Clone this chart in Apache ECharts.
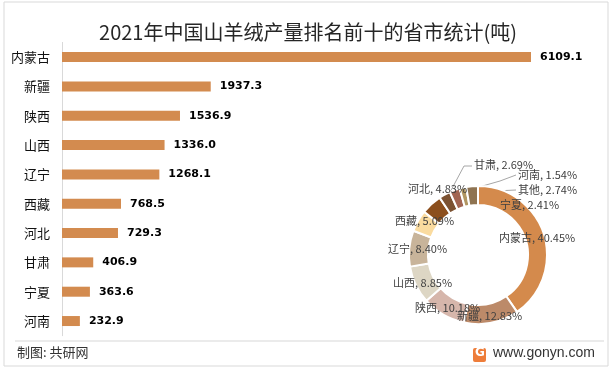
<!DOCTYPE html>
<html>
<head>
<meta charset="utf-8">
<script src="https://cdn.jsdelivr.net/npm/echarts@6/dist/echarts.min.js"></script>
<style>
html,body{margin:0;padding:0;background:#fff;}
#c{width:616px;height:370px;}
</style>
</head>
<body>
<div id="c"></div>
<script>
// ---- data ----
const categories = ['内蒙古','新疆','陕西','山西','辽宁','西藏','河北','甘肃','宁夏','河南'];
const barValues = [6109.1, 1937.3, 1536.9, 1336.0, 1268.1, 768.5, 729.3, 406.9, 363.6, 232.9];
const pieNames = ['内蒙古','新疆','陕西','山西','辽宁','西藏','河北','甘肃','宁夏','河南','其他'];
const pieValues = [40.45, 12.83, 10.18, 8.85, 8.40, 5.09, 4.83, 2.69, 2.41, 1.54, 2.74];
const titleText = '2021年中国山羊绒产量排名前十的省市统计(吨)';
const sourceText = '制图: 共研网';
const urlText = 'www.gonyn.com';

// ---- styles ----
const pieColors = ['#D48A4C','#BC8A69','#D6B6AB','#DDD6C4','#C8B49A','#FADB9F','#8C4F1D','#7C5232','#A26552','#B19661','#8E7351'];
const CJK = '"Noto Sans CJK SC", "Noto Sans", sans-serif';
// label anchor positions (left, middle) and leader lines for the donut
const pieLabelPos = [
  [499,238],[457,316],[415,308],[393,283],[388,249],[395,221],[408,189],
  [474,165],[500,205],[518,175],[518,190]
];
const pieLines = {
  7: [[472,166],[464,166],[448,196]],
  8: [[498,205],[484,201],[458,193]],
  9: [[516,175],[500,181],[465,191]],
  10: [[516,190],[495,191],[473,190]]
};

const chart = echarts.init(document.getElementById('c'), null, {renderer:'canvas'});

const pieData = pieNames.map((n,i) => ({
  name: n,
  value: pieValues[i],
  itemStyle: {color: pieColors[i]},
  labelLine: {show: pieLines[i] !== undefined}
}));

chart.setOption({
  animation: false,
  backgroundColor: '#fff',
  title: {
    text: titleText,
    left: 'center',
    top: 17,
    textStyle: {fontFamily: CJK, fontSize: 20, fontWeight: 'normal', color: '#262626'}
  },
  grid: {left: 62, right: 85, top: 42.4, bottom: 34.3, containLabel: false},
  xAxis: {
    type: 'value', min: 0, max: 'dataMax', show: false
  },
  yAxis: {
    type: 'category', data: categories, inverse: true,
    axisTick: {show: false},
    axisLine: {show: true, lineStyle: {color: '#D9D9D9', width: 1}},
    axisLabel: {fontFamily: CJK, fontSize: 13, color: '#111', margin: 12}
  },
  series: [
    {
      type: 'bar',
      data: barValues,
      barWidth: 10,
      itemStyle: {color: '#D38B4F'},
      label: {
        show: true, position: 'right', distance: 9,
        formatter: p => p.value.toFixed(1),
        fontFamily: '"DejaVu Sans", sans-serif', fontWeight: 'bold', fontSize: 11, color: '#000'
      },
      silent: true
    },
    {
      type: 'pie',
      center: [478, 255],
      radius: [50, 69],
      startAngle: 90,
      clockwise: true,
      avoidLabelOverlap: false,
      silent: true,
      itemStyle: {borderColor: '#fff', borderWidth: 2},
      label: {
        show: true, position: 'outside',
        formatter: p => p.name + ', ' + p.value.toFixed(2) + '%',
        fontFamily: CJK, fontSize: 11, color: '#404040'
      },
      labelLine: {show: true, lineStyle: {color: '#A6A6A6', width: 1}},
      labelLayout: function (params) {
        const i = params.dataIndex;
        const o = {x: pieLabelPos[i][0], y: pieLabelPos[i][1], align: 'left', verticalAlign: 'middle'};
        if (pieLines[i]) o.labelLinePoints = pieLines[i];
        return o;
      },
      data: pieData
    }
  ],
  graphic: [
    {type: 'rect', shape: {x: 4, y: 2, width: 604, height: 364}, style: {fill: 'none', stroke: '#D9D9D9', lineWidth: 1}, z: 100},
    {type: 'line', shape: {x1: 15, y1: 341, x2: 604, y2: 341}, style: {stroke: '#EBEBEB', lineWidth: 2}},
    {type: 'text', left: 17, top: 346, style: {text: sourceText, font: '13px "Noto Sans CJK SC"', fill: '#333'}},
    {type: 'rect', shape: {x: 473, y: 348, width: 13, height: 14, r: 2}, style: {fill: '#EE7D3A'}},
    {type: 'text', left: 475, top: 347, style: {text: 'G', font: 'bold 12px "DejaVu Sans"', fill: '#fff'}},
    {type: 'text', left: 493, top: 346, style: {text: urlText, font: '14px "Liberation Sans"', fill: '#333'}}
  ]
});
</script>
</body>
</html>
